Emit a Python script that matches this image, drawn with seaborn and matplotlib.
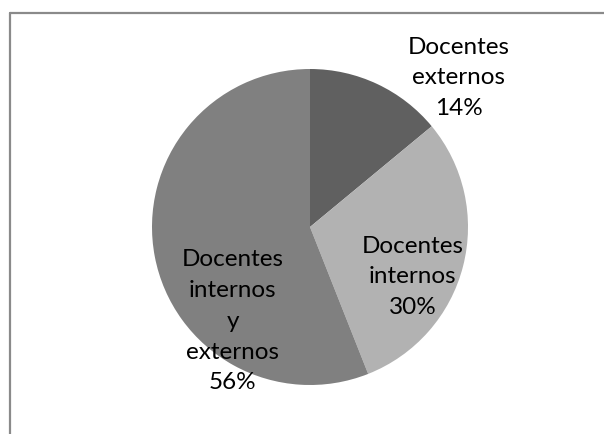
import matplotlib
matplotlib.use("Agg")
import matplotlib.pyplot as plt
from matplotlib.lines import Line2D
import seaborn as sns
import numpy as np

categories = ["Docentes\nexternos", "Docentes\ninternos", "Docentes\ninternos\ny\nexternos"]
values = [14, 30, 56]
colors = ["#606060", "#b2b2b2", "#808080"]
# label anchor offsets relative to the pie radius (style)
label_offsets = [(0.94, 0.95), (0.65, -0.31), (-0.49, -0.59)]

sns.set_theme(style="white")
plt.rcParams["font.family"] = ["Lato", "DejaVu Sans"]

W, H = 604, 435
fig = plt.figure(figsize=(W / 100, H / 100), dpi=100)
fig.patch.set_facecolor("white")
ax = fig.add_axes([0, 0, 1, 1])
ax.set_xlim(0, W)
ax.set_ylim(0, H)
ax.set_aspect("equal")
ax.axis("off")

cx, cy, r = 310, H - 228, 158
wedges, _ = ax.pie(values, colors=colors, startangle=90, counterclock=False,
                   center=(cx, cy), radius=r, frame=True,
                   wedgeprops=dict(linewidth=0))
ax.set_xlim(0, W)
ax.set_ylim(0, H)
ax.axis("off")

total = sum(values)
for cat, v, (fx, fy) in zip(categories, values, label_offsets):
    txt = f"{cat}\n{round(100 * v / total)}%"
    ax.text(cx + fx * r, cy + fy * r, txt, ha="center", va="center",
            fontsize=17.5, color="black", linespacing=1.58)

# chart-area border (left and top edges visible)
border = "#8a8a8a"
fig.add_artist(Line2D([9.5 / W, 9.5 / W], [0, 1 - 13.5 / H], color=border, lw=1.6,
                      transform=fig.transFigure))
fig.add_artist(Line2D([9.5 / W, 1], [1 - 13.5 / H, 1 - 13.5 / H], color=border, lw=1.6,
                      transform=fig.transFigure))

fig.savefig("out.png", dpi=100, facecolor="white")
